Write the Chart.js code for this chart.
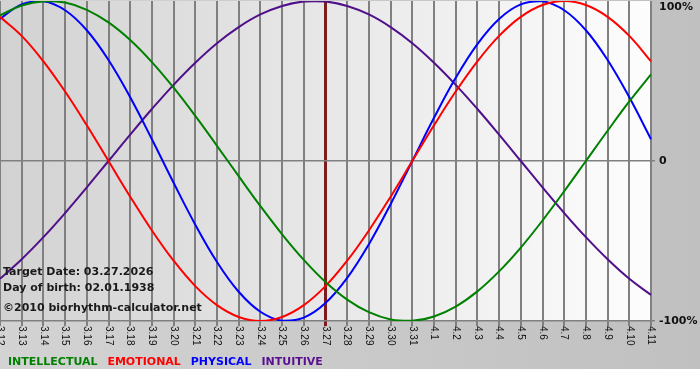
<!DOCTYPE html>
<html>
<head>
<meta charset="utf-8">
<script src="https://cdn.jsdelivr.net/npm/chart.js@4/dist/chart.umd.min.js"></script>
<style>
  body { margin: 0; background: #fff; }
  .wrap { position: relative; width: 700px; height: 380px; }
  .note { position: absolute; left: 3px; font: bold 11px "DejaVu Sans", sans-serif; color: #1a1a1a; white-space: nowrap; pointer-events: none; }
  .legend { position: absolute; left: 8px; top: 355px; font: bold 11px "DejaVu Sans", sans-serif; white-space: nowrap; }
  .legend span { margin-right: 6px; }
</style>
</head>
<body>
<div class="wrap">
  <canvas id="myChart" width="700" height="380"></canvas>
  <div class="note" style="top:265px">Target Date: 03.27.2026</div>
  <div class="note" style="top:281px">Day of birth: 02.01.1938</div>
  <div class="note" style="top:301px">©2010 biorhythm-calculator.net</div>
  <div class="legend">
    <span style="color:#008000">INTELLECTUAL</span>
    <span style="color:#ff0000">EMOTIONAL</span>
    <span style="color:#0000ff">PHYSICAL</span>
    <span style="color:#5a0f91">INTUITIVE</span>
  </div>
</div>
<script>
// data (percent)
const days = ['3.12', '3.13', '3.14', '3.15', '3.16', '3.17', '3.18', '3.19', '3.20', '3.21', '3.22', '3.23', '3.24', '3.25', '3.26', '3.27',
  '3.28', '3.29', '3.30', '3.31', '4.1', '4.2', '4.3', '4.4', '4.5', '4.6', '4.7', '4.8', '4.9', '4.10', '4.11'];
const intellectual = [91.0, 97.2, 99.9, 99.0, 94.5, 86.6, 75.6, 61.8, 45.8, 28.2, 9.5, -9.5, -28.2, -45.8, -61.8, -75.6,
  -86.6, -94.5, -99.0, -99.9, -97.2, -91.0, -81.5, -69.0, -54.1, -37.2, -18.9, 0, 18.9, 37.2, 54.1];
const emotional = [90.1, 78.2, 62.3, 43.4, 22.3, 0, -22.3, -43.4, -62.3, -78.2, -90.1, -97.5, -100, -97.5, -90.1, -78.2,
  -62.3, -43.4, -22.3, 0, 22.3, 43.4, 62.3, 78.2, 90.1, 97.5, 100, 97.5, 90.1, 78.2, 62.3];
const physical = [88.8, 97.9, 99.8, 94.2, 81.7, 63.1, 39.8, 13.6, -13.6, -39.8, -63.1, -81.7, -94.2, -99.8, -97.9, -88.8,
  -73.1, -52.0, -27.0, 0, 27.0, 52.0, 73.1, 88.8, 97.9, 99.8, 94.2, 81.7, 63.1, 39.8, 13.6];
const intuitive = [-73.6, -61.4, -47.6, -32.5, -16.5, 0, 16.5, 32.5, 47.6, 61.4, 73.6, 83.7, 91.6, 96.9, 99.7, 99.7,
  96.9, 91.6, 83.7, 73.6, 61.4, 47.6, 32.5, 16.5, 0, -16.5, -32.5, -47.6, -61.4, -73.6, -83.7];
const targetDay = '3.27';
const yTickValues = [100, 0, -100];
const yTickLabels = ['100%', '0', '-100%'];

const targetIndex = days.indexOf(targetDay);

// backgrounds + our own tick labels (x labels read top to bottom)
const bgAndLabels = {
  id: 'bgAndLabels',
  beforeDraw(chart) {
    const {ctx, width, height, chartArea: {left, top, right, bottom}} = chart;
    ctx.save();
    let g = ctx.createLinearGradient(0, 0, width, 0);
    g.addColorStop(0, '#d3d3d3');
    g.addColorStop(1, '#c0c0c0');
    ctx.fillStyle = g;
    ctx.fillRect(0, 0, width, 369);
    ctx.fillStyle = '#ffffff';
    ctx.fillRect(0, 369, width, height - 369);
    g = ctx.createLinearGradient(left, 0, right, 0);
    g.addColorStop(0, '#d2d2d2');
    g.addColorStop(1, '#fdfdfd');
    ctx.fillStyle = g;
    ctx.fillRect(left, top, right - left, bottom - top);
    ctx.restore();
  },
  afterDraw(chart) {
    const {ctx, scales: {x, y}, chartArea} = chart;
    ctx.save();
    ctx.fillStyle = '#111';
    ctx.font = '10px "Liberation Sans"';
    ctx.textAlign = 'left';
    ctx.textBaseline = 'middle';
    x.ticks.forEach((t, i) => {
      ctx.save();
      ctx.translate(x.getPixelForTick(i), chartArea.bottom + 5);
      ctx.rotate(Math.PI / 2);
      ctx.fillText(x.getLabelForValue(t.value), 0, 0);
      ctx.restore();
    });
    ctx.font = 'bold 11px "DejaVu Sans"';
    yTickValues.forEach((v, i) => {
      let py = Math.max(y.getPixelForValue(v), chartArea.top + 6);
      ctx.fillText(yTickLabels[i], chartArea.right + 8, py);
    });
    ctx.restore();
  }
};

const ctx = document.getElementById('myChart');
new Chart(ctx, {
  type: 'line',
  data: {
    labels: days,
    datasets: [
      {label: 'INTELLECTUAL', data: intellectual, borderColor: '#008000'},
      {label: 'EMOTIONAL', data: emotional, borderColor: '#ff0000'},
      {label: 'PHYSICAL', data: physical, borderColor: '#0000ff'},
      {label: 'INTUITIVE', data: intuitive, borderColor: '#50108a'}
    ]
  },
  options: {
    responsive: false,
    animation: false,
    layout: {padding: {top: 1, left: 0, right: 0, bottom: 30}},
    elements: {
      line: {borderWidth: 2, tension: 0.4},
      point: {radius: 0}
    },
    scales: {
      x: {
        offset: false,
        border: {display: false},
        grid: {
          color: c => c.index === targetIndex ? '#7d1c1c' : '#808080',
          lineWidth: c => c.index === targetIndex ? 3 : 2,
          tickLength: 5
        },
        ticks: {display: false, autoSkip: false},
        afterFit(s) { s.height = 29; }
      },
      y: {
        position: 'right',
        min: -100,
        max: 100,
        border: {display: false},
        afterBuildTicks(s) { s.ticks = yTickValues.map(v => ({value: v})); },
        grid: {
          color: c => c.tick && c.tick.value === 100 ? 'rgba(0,0,0,0)' : '#808080',
          lineWidth: 1.5,
          tickLength: 4
        },
        ticks: {display: false},
        afterFit(s) { s.width = 49; }
      }
    },
    plugins: {
      legend: {display: false},
      tooltip: {enabled: false}
    }
  },
  plugins: [bgAndLabels]
});
</script>
</body>
</html>
